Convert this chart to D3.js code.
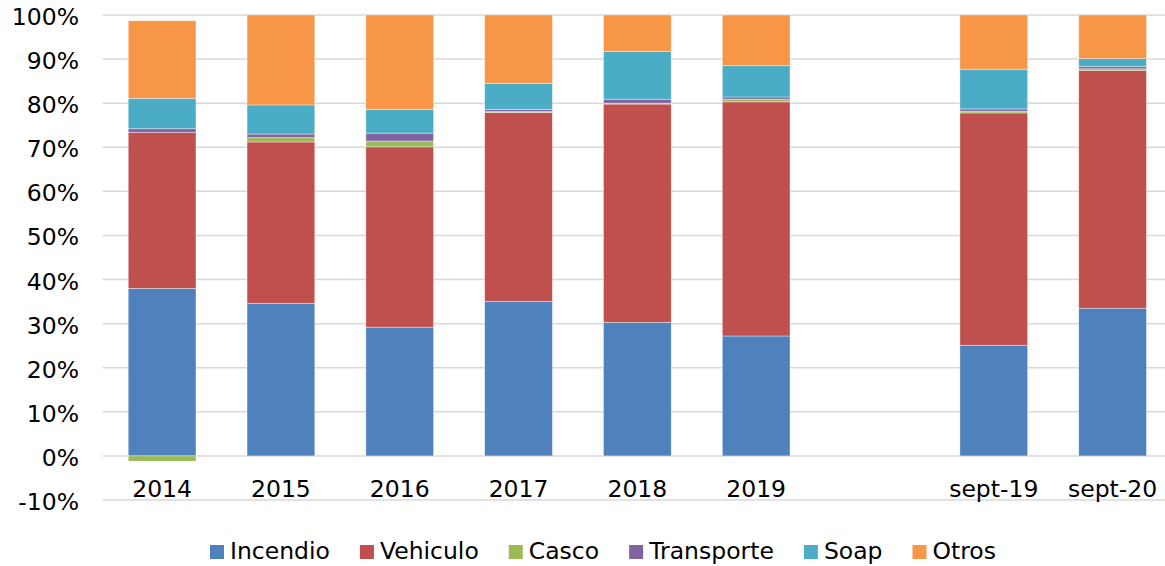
<!DOCTYPE html>
<html>
<head>
  <meta charset="utf-8">
  <script src="https://cdnjs.cloudflare.com/ajax/libs/d3/7.8.5/d3.min.js"></script>
  <style>
  *{
    margin: 0;
    padding: 0;
  }
  body{
    background: #fff;
  }
  svg text{
    font-family: 'DejaVu Sans', Verdana, sans-serif;
    font-size: 23.5px;
    fill: #000;
  }
  .grid line{
    stroke: #d9d9d9;
    stroke-width: 1.5px;
  }
  </style>
</head>
<body>
  <div class="chart"></div>
  <script>

  // categories (the blank slot is the gap between 2019 and sept-19)
  let slots = ['2014', '2015', '2016', '2017', '2018', '2019', ' ', 'sept-19', 'sept-20'];
  let categories = ['2014', '2015', '2016', '2017', '2018', '2019', 'sept-19', 'sept-20'];

  // series values, in percent
  let incendio   = [38.0, 34.6, 29.2, 35.0, 30.3, 27.2, 25.1, 33.5];
  let vehiculo   = [35.4, 36.6, 40.9, 42.9, 49.5, 53.1, 52.7, 53.9];
  let casco      = [-1.2, 1.0, 1.3, 0.2, 0.2, 0.6, 0.4, 0.4];
  let transporte = [0.8, 0.8, 1.8, 0.5, 0.9, 0.5, 0.5, 0.5];
  let soap       = [6.9, 6.6, 5.4, 5.9, 10.8, 7.1, 9.0, 1.8];
  let otros      = [17.6, 20.4, 21.4, 15.5, 8.3, 11.5, 12.3, 9.9];

  let seriesNames = ['Incendio', 'Vehiculo', 'Casco', 'Transporte', 'Soap', 'Otros'];
  let seriesValues = [incendio, vehiculo, casco, transporte, soap, otros];
  let colors = ['#4f81bd', '#c0504d', '#9bbb59', '#8064a2', '#4bacc6', '#f79646'];

  let yTicks = [-10, 0, 10, 20, 30, 40, 50, 60, 70, 80, 90, 100];

  let width = 1165, height = 566;
  let plot = {left: 102.7, right: 1172, top: 15, bottom: 500};

  // rows for d3.stack
  let rows = categories.map(function(c, i){
    let row = {cat: c};
    seriesNames.forEach(function(s, j){ row[s] = seriesValues[j][i]; });
    return row;
  });

  let stacked = d3.stack()
    .keys(seriesNames)
    .offset(d3.stackOffsetDiverging)(rows);

  let x = d3.scaleBand()
    .domain(slots)
    .range([plot.left, plot.right])
    .paddingInner(0.43)
    .paddingOuter(0.215);

  let y = d3.scaleLinear()
    .domain([-10, 100])
    .range([plot.bottom, plot.top]);

  let color = d3.scaleOrdinal().domain(seriesNames).range(colors);

  let svg = d3.select('.chart')
    .append('svg')
    .attr('width', width)
    .attr('height', height);

  // gridlines
  svg.append('g')
    .attr('class', 'grid')
    .selectAll('line')
    .data(yTicks)
    .enter()
    .append('line')
    .attr('x1', plot.left)
    .attr('x2', plot.right)
    .attr('y1', function(d){ return y(d); })
    .attr('y2', function(d){ return y(d); });

  // y labels
  svg.append('g')
    .selectAll('text')
    .data(yTicks)
    .enter()
    .append('text')
    .attr('x', 79)
    .attr('y', function(d){ return y(d) + 10; })
    .attr('text-anchor', 'end')
    .text(function(d){ return d + '%'; });

  // bars
  svg.append('g')
    .selectAll('g')
    .data(stacked)
    .enter()
    .append('g')
    .attr('fill', function(d){ return color(d.key); })
    .selectAll('rect')
    .data(function(d){ return d; })
    .enter()
    .append('rect')
    .attr('x', function(d){ return x(d.data.cat); })
    .attr('width', x.bandwidth())
    .attr('y', function(d){ return y(Math.max(d[0], d[1])); })
    .attr('height', function(d){ return Math.abs(y(d[0]) - y(d[1])); })
    .attr('stroke', '#fff')
    .attr('stroke-opacity', 0.5)
    .attr('stroke-width', 0.75);

  // x labels
  svg.append('g')
    .selectAll('text')
    .data(categories)
    .enter()
    .append('text')
    .attr('x', function(d){ return x(d) + x.bandwidth() / 2; })
    .attr('y', 497)
    .attr('text-anchor', 'middle')
    .text(function(d){ return d; });

  // legend
  let legend = svg.append('g').attr('class', 'legend');
  let lx = 210;
  seriesNames.forEach(function(s, i){
    legend.append('rect')
      .attr('x', lx)
      .attr('y', 545)
      .attr('width', 14)
      .attr('height', 14)
      .attr('fill', colors[i]);
    let t = legend.append('text')
      .attr('x', lx + 20)
      .attr('y', 559)
      .text(s);
    lx += 20 + t.node().getComputedTextLength() + 30;
  });

  </script>
</body>
</html>
